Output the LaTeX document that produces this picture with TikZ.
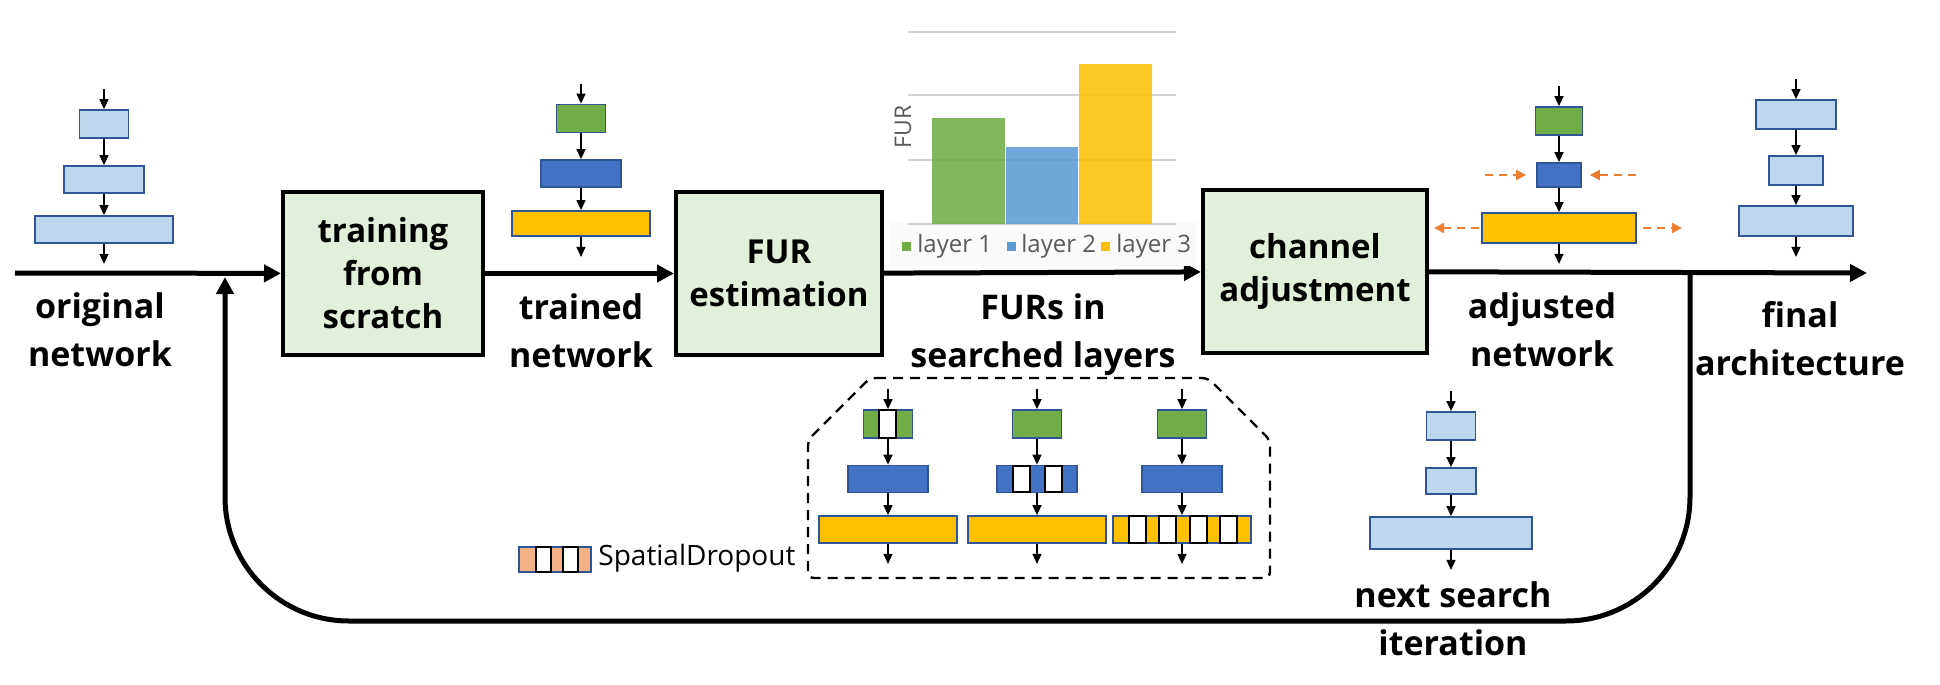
\documentclass[tikz,border=0pt]{standalone}
\usepackage{fontspec}
\setmainfont{Open Sans}
\usetikzlibrary{arrows.meta,positioning,calc}
\definecolor{procfill}{RGB}{226,239,218}
\definecolor{lightblue}{RGB}{189,215,238}
\definecolor{layedge}{RGB}{47,85,151}
\definecolor{laygreen}{RGB}{112,173,71}
\definecolor{layblue}{RGB}{68,114,196}
\definecolor{layyellow}{RGB}{255,192,0}
\definecolor{dropfill}{RGB}{244,177,131}
\definecolor{adjorange}{RGB}{237,125,49}
\definecolor{bargreen}{RGB}{112,173,71}
\definecolor{barblue}{RGB}{91,155,213}
\definecolor{baryellow}{RGB}{252,192,10}
\definecolor{axisgray}{RGB}{89,89,89}

\tikzset{
  proc/.style={draw,line width=2pt,fill=procfill,minimum width=#1,minimum height=81.5pt,
    align=center,font=\bfseries\fontsize{16.5}{21.5}\selectfont},
  nettext/.style={align=center,font=\bfseries\fontsize{17}{24}\selectfont},
  lay/.style={draw=layedge,line width=0.9pt,inner sep=0pt,fill=#1},
  s1/.style={minimum width=24.5pt,minimum height=14pt},
  s2/.style={minimum width=40pt,minimum height=13.5pt},
  s3/.style={minimum width=69pt,minimum height=13.5pt},
  sarr/.style={line width=0.75pt,-{Triangle[length=5pt,width=4.5pt]}},
  flow/.style={line width=2.5pt,-{Triangle[length=8.5pt,width=8.5pt]}},
  oarr/.style={adjorange,line width=1.1pt,dash pattern=on 4pt off 3pt,-{Triangle[length=5pt,width=5pt]}},
  drop/.style={draw=black,fill=white,line width=1pt},
  legtext/.style={text=axisgray,font=\fontsize{12}{14}\selectfont,anchor=west,inner sep=0pt}
}

\begin{document}
\begin{tikzpicture}[x=0.5pt,y=-0.5pt]
\useasboundingbox (0,0) rectangle (1940,685);

% process boxes
\node[proc=100pt] (train) at (383,273.5) {training\\from\\scratch};
\node[proc=103pt] (fur) at (779,273.5) {FUR\\estimation};
\node[proc=112pt] (chan) at (1315,271.5) {channel\\adjustment};

% feedback loop
\coordinate (split) at (1690,273);
\coordinate (loopR) at (1690,621);
\coordinate (loopL) at (225,621);
\coordinate (merge) at (225,277);
\draw[flow,rounded corners=62pt] (split) -- (loopR) -- (loopL) -- (merge);

% main flow
\coordinate (in) at (15,273);
\coordinate (out) at (1867,273);
\draw[flow] (in) -- (train);
\draw[flow] (train) -- (fur);
\draw[flow] (fur) -- (chan);
\draw[flow] (chan) -- (out);

% original network
\node[lay=lightblue,s1] (o1) at (104,124) {};
\node[lay=lightblue,s2] (o2) at (104,179.5) {};
\node[lay=lightblue,s3] (o3) at (104,229.5) {};
% trained network
\node[lay=laygreen,s1] (t1) at (581,118.5) {};
\node[lay=layblue,s2] (t2) at (581,173.5) {};
\node[lay=layyellow,s3,minimum height=12.5pt] (t3) at (581,223.5) {};
% adjusted network
\node[lay=laygreen,s1,minimum width=23.5pt] (a1) at (1559,121) {};
\node[lay=layblue,minimum width=22pt,minimum height=12pt] (a2) at (1559,175) {};
\node[lay=layyellow,minimum width=77pt,minimum height=15pt] (a3) at (1559,228) {};
% final architecture
\node[lay=lightblue,s2,minimum height=14.5pt] (f1) at (1796,114.5) {};
\node[lay=lightblue,minimum width=27pt,minimum height=14.5pt] (f2) at (1796,170.5) {};
\node[lay=lightblue,minimum width=57pt,minimum height=15pt] (f3) at (1796,221) {};
% next search iteration
\node[lay=lightblue,s1] (n1) at (1451,426) {};
\node[lay=lightblue,s1,minimum width=25pt,minimum height=13pt] (n2) at (1451,481) {};
\node[lay=lightblue,minimum width=81pt,minimum height=16pt] (n3) at (1451,533) {};

% dropout variants
\draw[dashed,line width=1.2pt,dash pattern=on 5pt off 3.5pt,rounded corners=3pt]
  (870,378) -- (1208,378) -- (1270,440) -- (1270,578) -- (808,578) -- (808,440) -- cycle;
\foreach \c/\x in {c1/888,c2/1037,c3/1182} {
  \node[lay=laygreen,s1] (\c1) at (\x,424) {};
  \node[lay=layblue,s2] (\c2) at (\x,479) {};
  \node[lay=layyellow,s3] (\c3) at (\x,529.5) {};
}
\draw[drop] (879,410) rectangle (896,438);
\foreach \x in {1013,1045} \draw[drop] (\x,466) rectangle +(16.5,26);
\foreach \x in {1129,1159,1190,1220} \draw[drop] (\x,516) rectangle +(16.5,27);

% stack arrows
\foreach \s in {o,t,a,f,n,c1,c2,c3} {
  \coordinate[above=10pt of \s1] (\s0);
  \coordinate[below=10pt of \s3] (\s4);
  \foreach \i/\j in {0/1,1/2,2/3,3/4} \draw[sarr] (\s\i) -- (\s\j);
}

% channel changes
\draw[oarr] ([xshift=-25.5pt]a2.west) -- ([xshift=-5pt]a2.west);
\draw[oarr] ([xshift=27pt]a2.east) -- ([xshift=4pt]a2.east);
\draw[oarr] ([xshift=-1pt]a3.west) -- ([xshift=-23.5pt]a3.west);
\draw[oarr] ([xshift=3pt]a3.east) -- ([xshift=22.5pt]a3.east);

% FUR chart
\fill[black!2] (890,222) rectangle (1196,266);
\foreach \y in {32,95,160,224} \draw[black!18,line width=0.6pt] (908,\y) -- (1176,\y);
\fill[bargreen,opacity=.88] (932,224) rectangle (1005,118);
\fill[barblue,opacity=.88] (1006,224) rectangle (1078,147);
\fill[baryellow,opacity=.88] (1079,224) rectangle (1152,64);
\node[rotate=90,text=axisgray,font=\fontsize{11.5}{13}\selectfont] (furlab) at (903,127) {FUR};
\fill[bargreen] (902,242) rectangle (911,251);
\node[legtext] (leg1) at (917,246) {layer 1};
\fill[barblue] (1007,242) rectangle (1016,251);
\node[legtext] (leg2) at (1021,246) {layer 2};
\fill[baryellow] (1101,242) rectangle (1110,251);
\node[legtext] (leg3) at (1116,246) {layer 3};

% legend
\node[lay=dropfill,minimum width=36pt,minimum height=12.5pt] (dlegend) at (555,559.5) {};
\draw[drop] (536,547) rectangle (551,572);
\draw[drop] (563,547) rectangle (578,572);
\node[anchor=west,inner sep=0pt,font=\fontsize{14}{16}\selectfont] (dtext) at (598,558) {SpatialDropout};

% labels
\node[nettext] (lorig) at (100,330) {original\\network};
\node[nettext] (ltrain) at (581,331) {trained\\network};
\node[nettext] (lfur) at (1043,335) {FURs in\\searched layers};
\node[nettext] (ladj) at (1542,330) {adjusted\\network};
\node[nettext] (lfinal) at (1800,339) {final\\architecture};
\node[nettext] (lnext) at (1453,619) {next search\\iteration};
\end{tikzpicture}
\end{document}
